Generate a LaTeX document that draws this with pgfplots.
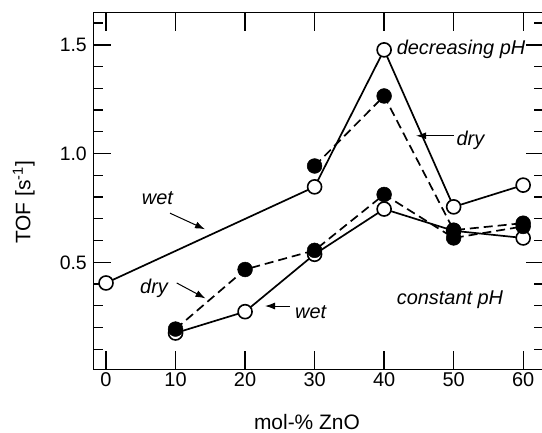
\documentclass[border=0pt]{standalone}
\usepackage{fontspec}
\setmainfont{Liberation Sans}
\usepackage{pgfplots}
\pgfplotsset{compat=1.18}
\usetikzlibrary{arrows.meta}

\begin{document}
\begin{tikzpicture}[x=1bp,y=1bp]
\useasboundingbox (-93.3,-63.7) rectangle (448.7,369.3);
\begin{axis}[
  at={(0,0)}, anchor=south west,
  scale only axis, width=450.7bp, height=356.6bp,
  xmin=-1.83, xmax=63.0, ymin=0.008, ymax=1.648,
  xtick={0,10,20,30,40,50,60},
  ytick={0.5,1,1.5},
  minor ytick={0.1,0.2,0.3,0.4,0.6,0.7,0.8,0.9,1.1,1.2,1.3,1.4,1.6},
  xtick pos=both, ytick pos=both,
  tick align=inside,
  major tick length=18bp, minor tick length=10bp,
  tick style={line width=1.3bp, black},
  axis line style={line width=1.5bp},
  /pgf/number format/assume math mode=true,
  xticklabel style={font=\fontsize{20}{20}\selectfont},
  yticklabel style={font=\fontsize{19.5}{19.5}\selectfont, xshift=-3bp,
     /pgf/number format/.cd, fixed, fixed zerofill, precision=1},
  xlabel={mol-\% ZnO},
  xlabel style={font=\fontsize{21}{21}\selectfont, at={(axis description cs:0.474,-0.147)}, anchor=center},
  ylabel={TOF [s\textsuperscript{-1}]},
  ylabel style={font=\fontsize{21}{21}\selectfont, at={(axis description cs:-0.1545,0.468)}, anchor=center},
  clip=false,
]
% constant pH, wet (open)
\addplot[line width=1.7bp, mark=*, mark size=7bp, mark options={solid, fill=white, line width=1.6bp}]
  coordinates {(10,0.175)(20,0.273)(30,0.537)(40,0.745)(50,0.645)(60,0.612)};
% decreasing pH, wet (open)
\addplot[line width=1.7bp, mark=*, mark size=7bp, mark options={solid, fill=white, line width=1.6bp}]
  coordinates {(0,0.405)(30,0.847)(40,1.477)(50,0.755)(60,0.855)};
% constant pH, dry (filled)
\addplot[line width=1.7bp, dash pattern=on 9bp off 5bp, mark=*, mark size=7.4bp, mark options={solid, fill=black, line width=0.5bp}]
  coordinates {(10,0.193)(20,0.467)(30,0.555)(40,0.812)(50,0.612)(60,0.665)};
% decreasing pH, dry (filled)
\addplot[line width=1.7bp, dash pattern=on 9bp off 5bp, mark=*, mark size=7.4bp, mark options={solid, fill=black, line width=0.5bp}]
  coordinates {(30,0.943)(40,1.265)(50,0.648)(60,0.680)};

\node[anchor=base west, inner sep=0, font=\itshape\fontsize{20}{20}\selectfont] at (axis cs:41.8,1.458) {decreasing pH};
\node[anchor=base west, inner sep=0, font=\itshape\fontsize{20}{20}\selectfont] at (axis cs:41.8,0.308) {constant pH};
\node[anchor=base west, inner sep=0, font=\itshape\fontsize{20}{20}\selectfont] at (axis cs:50.4,1.035) {dry};
\node[anchor=base west, inner sep=0, font=\itshape\fontsize{20}{20}\selectfont] at (axis cs:5.13,0.768) {wet};
\node[anchor=base west, inner sep=0, font=\itshape\fontsize{20}{20}\selectfont] at (axis cs:4.89,0.357) {dry};
\node[anchor=base west, inner sep=0, font=\itshape\fontsize{20}{20}\selectfont] at (axis cs:27.18,0.242) {wet};

\draw[line width=1bp, -{Latex[length=10bp,width=7bp]}] (axis cs:9.2,0.726) -- (axis cs:14.24,0.652);
\draw[line width=1bp, -{Latex[length=10bp,width=7bp]}] (axis cs:10.17,0.405) -- (axis cs:14.31,0.334);
\draw[line width=1bp, -{Latex[length=10bp,width=7bp]}] (axis cs:26.46,0.299) -- (axis cs:22.87,0.299);
\draw[line width=1bp, -{Latex[length=10bp,width=7bp]}] (axis cs:50.0,1.082) -- (axis cs:44.6,1.082);
\end{axis}
\end{tikzpicture}
\end{document}
